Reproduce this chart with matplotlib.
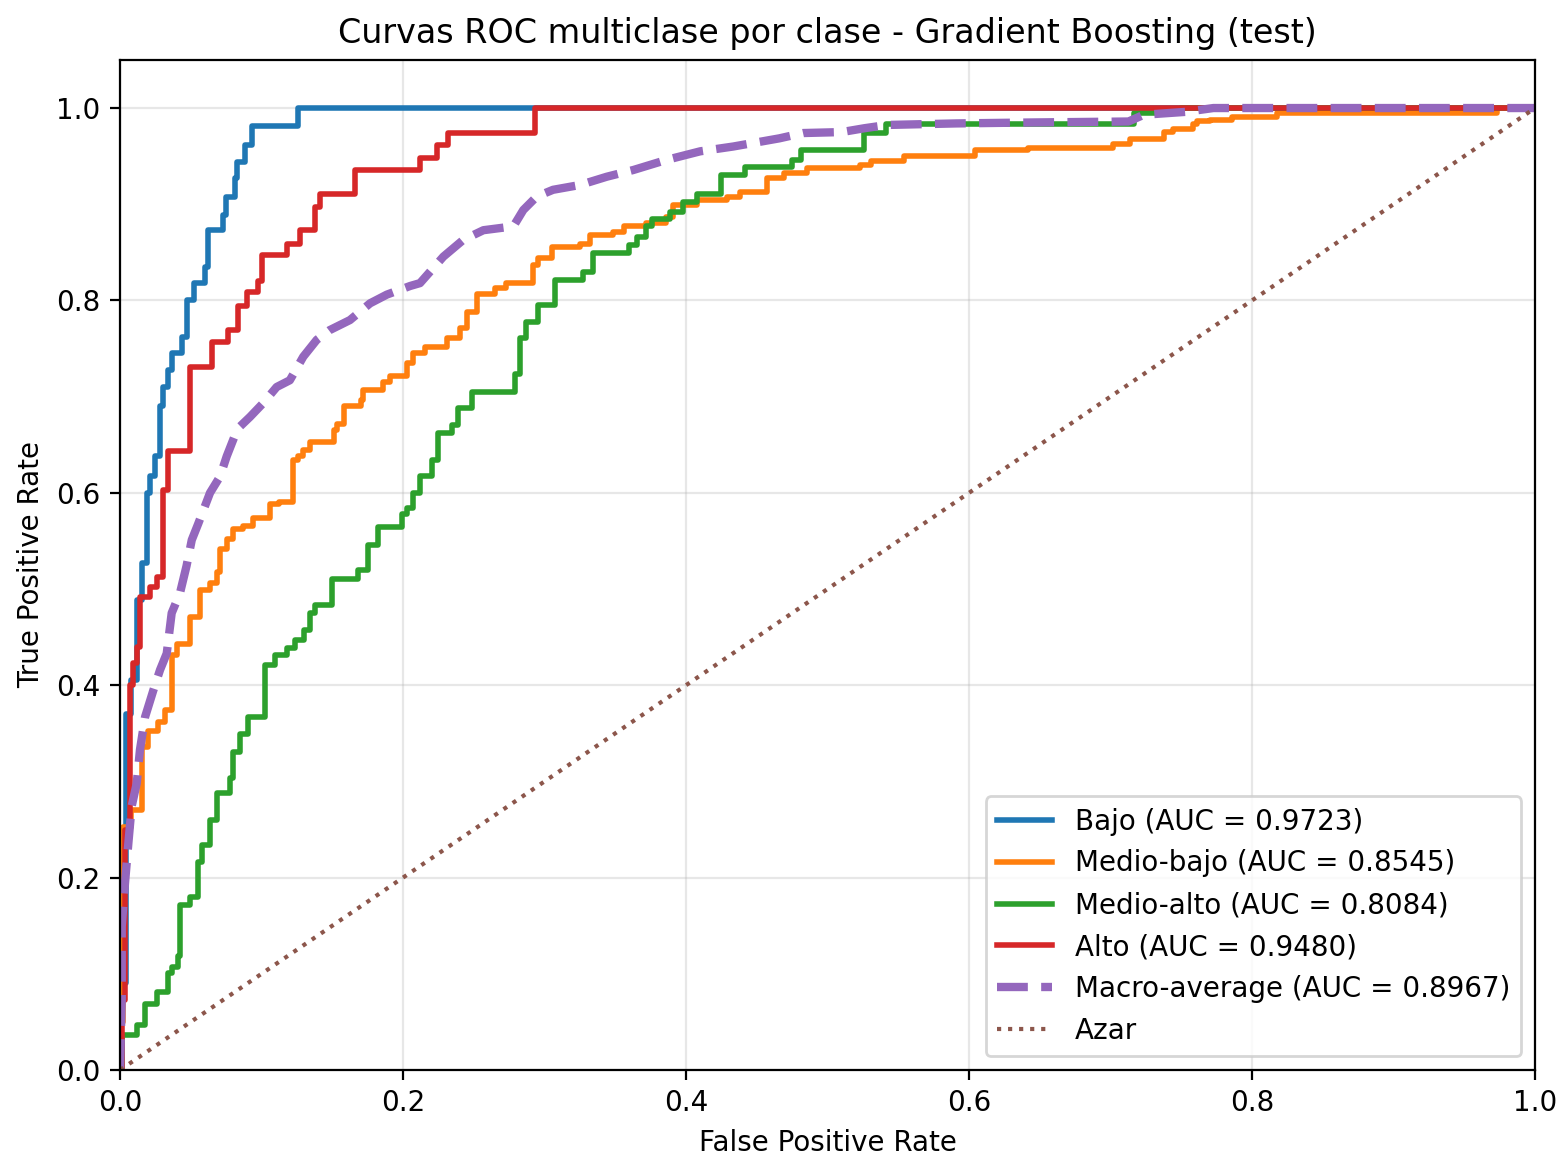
import numpy as np
import matplotlib
matplotlib.use("Agg")
import matplotlib.pyplot as plt

# ROC points (fpr where the step rises, tpr after the rise)
bajo_fpr = [0.0, 0.0, 0.004, 0.008, 0.0118, 0.0153, 0.0188, 0.0212, 0.0247, 0.0283, 0.0306,
            0.034, 0.0365, 0.044, 0.047, 0.052, 0.060, 0.062, 0.073, 0.075, 0.081, 0.083,
            0.088, 0.093, 0.126, 1.0]
bajo_tpr = [0.0, 0.09, 0.37, 0.405, 0.489, 0.527, 0.600, 0.617, 0.638, 0.690, 0.710,
            0.728, 0.745, 0.762, 0.800, 0.818, 0.835, 0.873, 0.889, 0.908, 0.927, 0.944,
            0.962, 0.981, 1.0, 1.0]

medbajo_fpr = [0.0, 0.0, 0.0024, 0.008, 0.0153, 0.020, 0.027, 0.032, 0.0365, 0.040, 0.0495,
               0.0565, 0.0636, 0.0683, 0.0707, 0.0754, 0.080, 0.0872, 0.0942, 0.106, 0.112,
               0.1225, 0.126, 0.1295, 0.134, 0.151, 0.153, 0.158, 0.170, 0.172, 0.186, 0.191,
               0.2026, 0.207, 0.2155, 0.231, 0.240, 0.245, 0.252, 0.265, 0.273, 0.292, 0.2956,
               0.305, 0.325, 0.332, 0.3486, 0.356, 0.372, 0.386, 0.391, 0.4075, 0.429, 0.438,
               0.457, 0.469, 0.4855, 0.523, 0.531, 0.554, 0.604, 0.642, 0.702, 0.714, 0.738,
               0.744, 0.7586, 0.761, 0.770, 0.786, 0.8175, 0.973, 1.0]
medbajo_tpr = [0.0, 0.05, 0.253, 0.270, 0.336, 0.352, 0.362, 0.374, 0.431, 0.443, 0.471,
               0.499, 0.506, 0.518, 0.542, 0.552, 0.562, 0.566, 0.574, 0.588, 0.590,
               0.634, 0.638, 0.6445, 0.653, 0.665, 0.672, 0.690, 0.696, 0.707, 0.7155, 0.721,
               0.7346, 0.745, 0.752, 0.7606, 0.771, 0.788, 0.807, 0.8125, 0.818, 0.837, 0.844,
               0.856, 0.859, 0.868, 0.8715, 0.877, 0.880, 0.887, 0.899, 0.904, 0.908, 0.913,
               0.927, 0.932, 0.938, 0.941, 0.945, 0.950, 0.956, 0.958, 0.963, 0.968, 0.975,
               0.978, 0.983, 0.986, 0.988, 0.991, 0.995, 1.0, 1.0]

medalto_fpr = [0.0, 0.0012, 0.0118, 0.0177, 0.0259, 0.034, 0.0365, 0.041, 0.0424, 0.0495,
               0.0553, 0.0577, 0.0636, 0.0683, 0.0777, 0.080, 0.0848, 0.0907, 0.1025, 0.1096,
               0.118, 0.124, 0.130, 0.1343, 0.138, 0.1496, 0.168, 0.1754, 0.1825, 0.199,
               0.2026, 0.2073, 0.212, 0.2203, 0.225, 0.2344, 0.239, 0.2486, 0.279, 0.2827,
               0.287, 0.2956, 0.3074, 0.3274, 0.3345, 0.360, 0.365, 0.372, 0.3757, 0.3887,
               0.398, 0.4075, 0.425, 0.4417, 0.4746, 0.4814, 0.526, 0.541, 0.7166, 0.75, 1.0]
medalto_tpr = [0.0, 0.036, 0.047, 0.069, 0.081, 0.1005, 0.107, 0.118, 0.172, 0.180,
               0.216, 0.234, 0.260, 0.288, 0.304, 0.331, 0.349, 0.367, 0.421, 0.431,
               0.439, 0.447, 0.457, 0.475, 0.483, 0.510, 0.520, 0.546, 0.564, 0.578,
               0.584, 0.600, 0.617, 0.634, 0.662, 0.6705, 0.688, 0.705, 0.724, 0.7606,
               0.778, 0.7952, 0.821, 0.830, 0.849, 0.8576, 0.866, 0.877, 0.885, 0.892,
               0.9026, 0.911, 0.930, 0.939, 0.946, 0.956, 0.974, 0.983, 0.995, 1.0, 1.0]

alto_fpr = [0.0, 0.0012, 0.0035, 0.0071, 0.0094, 0.0118, 0.0141, 0.0212, 0.0259, 0.0306,
            0.034, 0.0495, 0.0648, 0.0765, 0.0836, 0.0895, 0.0978, 0.100, 0.118, 0.127,
            0.138, 0.141, 0.166, 0.212, 0.224, 0.232, 0.293, 1.0]
alto_tpr = [0.0, 0.073, 0.25, 0.40, 0.423, 0.44, 0.492, 0.502, 0.513, 0.603,
            0.643, 0.731, 0.757, 0.769, 0.794, 0.809, 0.82, 0.847, 0.859, 0.873,
            0.897, 0.911, 0.936, 0.948, 0.962, 0.974, 1.0, 1.0]

# macro-average is interpolated, drawn as a plain line
macro_fpr = [0.0, 0.0012, 0.0012, 0.0035, 0.0059, 0.0082, 0.0118, 0.0141, 0.0177, 0.0236,
             0.0283, 0.033, 0.0365, 0.0424, 0.047, 0.0507, 0.0553, 0.0636, 0.0707, 0.0754,
             0.081, 0.0848, 0.0919, 0.101, 0.1107, 0.120, 0.1295, 0.139, 0.148, 0.1625,
             0.1767, 0.1885, 0.205, 0.212, 0.2285, 0.2426, 0.2568, 0.278, 0.285, 0.2945,
             0.306, 0.325, 0.344, 0.3628, 0.386, 0.410, 0.4334, 0.466, 0.4827, 0.51, 0.526,
             0.542, 0.591, 0.645, 0.7127, 0.7235, 0.753, 0.7727, 1.0]
macro_tpr = [0.0, 0.073, 0.149, 0.194, 0.236, 0.274, 0.298, 0.333, 0.367, 0.395,
             0.416, 0.433, 0.475, 0.496, 0.524, 0.551, 0.568, 0.600, 0.617, 0.638,
             0.659, 0.669, 0.679, 0.693, 0.710, 0.717, 0.7415, 0.759, 0.769, 0.7796,
             0.797, 0.806, 0.815, 0.818, 0.8455, 0.863, 0.873, 0.877, 0.894, 0.908,
             0.915, 0.920, 0.9286, 0.9356, 0.946, 0.955, 0.960, 0.9685, 0.974, 0.975, 0.979,
             0.9824, 0.984, 0.985, 0.986, 0.993, 0.996, 1.0, 1.0]

labels = ["Bajo", "Medio-bajo", "Medio-alto", "Alto"]
aucs = [0.9723, 0.8545, 0.8084, 0.9480]
macro_auc = 0.8967
colors = ["tab:blue", "tab:orange", "tab:green", "tab:red"]

curves = [(bajo_fpr, bajo_tpr), (medbajo_fpr, medbajo_tpr),
          (medalto_fpr, medalto_tpr), (alto_fpr, alto_tpr)]

fig = plt.figure(figsize=(7.835, 5.785), dpi=200)
ax = fig.add_axes([0.0766, 0.0752, 0.903, 0.873])

for (fpr, tpr), lab, auc_val, col in zip(curves, labels, aucs, colors):
    ax.plot(fpr, tpr, drawstyle="steps-post", lw=2, color=col,
            label=f"{lab} (AUC = {auc_val:.4f})")

ax.plot(macro_fpr, macro_tpr, "--", lw=3, color="tab:purple",
        label=f"Macro-average (AUC = {macro_auc:.4f})")
ax.plot([0, 1], [0, 1], ":", lw=1.5, color="tab:brown", label="Azar")

ax.set_xlim(0, 1)
ax.set_ylim(0, 1.05)
ax.set_xlabel("False Positive Rate")
ax.set_ylabel("True Positive Rate")
ax.set_title("Curvas ROC multiclase por clase - Gradient Boosting (test)", fontsize=12)
ax.grid(True, alpha=0.3)
ax.legend(loc="lower right")

fig.savefig("out.png", dpi=200)
